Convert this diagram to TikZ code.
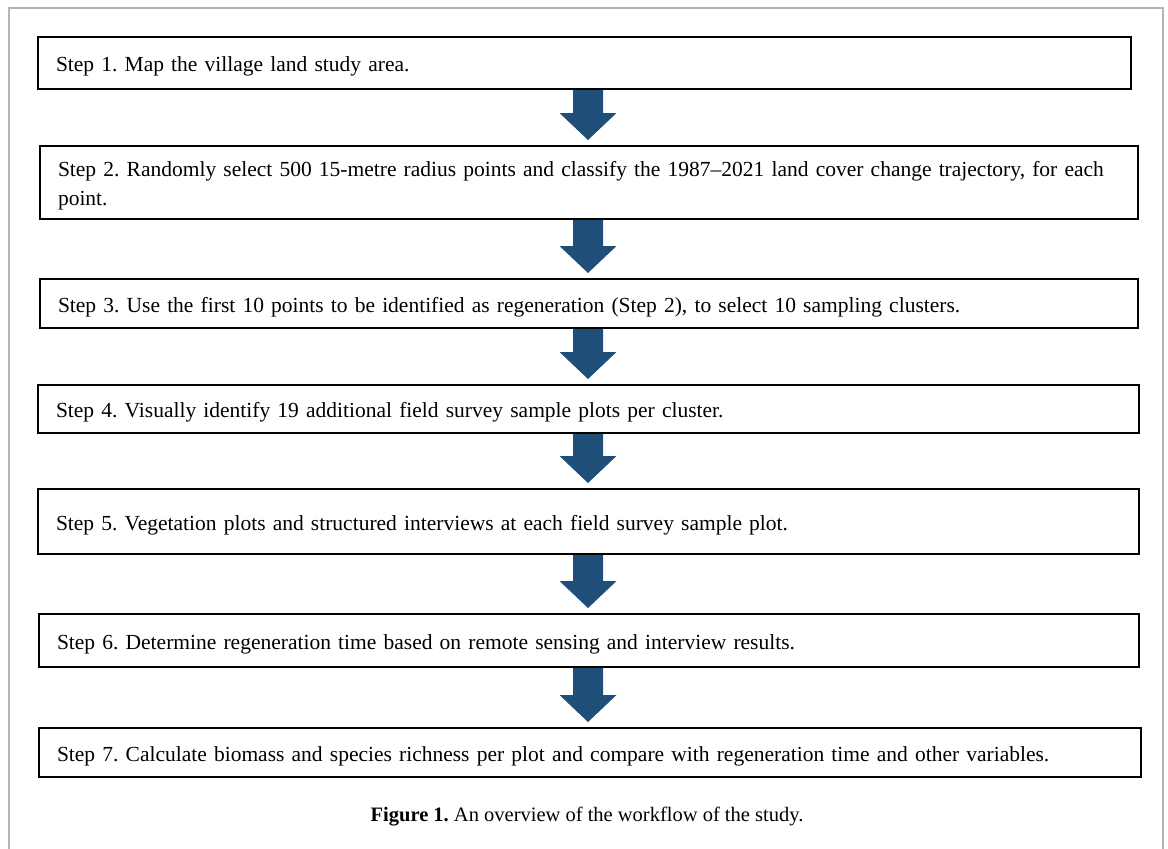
\documentclass[tikz,border=0pt]{standalone}
\usepackage{fontspec}
\setmainfont{Liberation Serif}
\usetikzlibrary{positioning}
\usetikzlibrary{calc}
\frenchspacing
\definecolor{arrowblue}{HTML}{1F4E79}
\definecolor{framegray}{HTML}{B4B4B4}
\tikzstyle{stepbox} = [rectangle, draw, line width=2pt, anchor=north west, align=left, inner xsep=18pt, inner ysep=0pt, font=\fontsize{21.5}{29}\selectfont, execute at begin node={\rule{0pt}{22pt}}]
\tikzstyle{flowarrow} = [fill=arrowblue]
\tikzstyle{caption} = [font=\fontsize{20.5}{24}\selectfont]

\begin{document}
\begin{tikzpicture}[x=1pt,y=-1pt]
		% page size and frame
		\useasboundingbox (0,0) rectangle (1168,849);
		\draw[framegray, line width=1.5pt] (9,849) -- (9,8) -- (1163,8) -- (1163,849);
		\coordinate (axis) at (588,0);
		% workflow steps
		\node[stepbox, minimum width=1093pt, minimum height=52pt, text width=1057pt] (s1) at (37,36) {Step 1. Map the village land study area.};
		\node[stepbox, minimum width=1098pt, minimum height=73pt, text width=1062pt] (s2) at (39,145) {Step 2. Randomly select 500 15-metre radius points and classify the 1987--2021 land cover change trajectory, for each\\point.};
		\node[stepbox, minimum width=1098pt, minimum height=49pt, text width=1062pt] (s3) at (39,278) {Step 3. Use the first 10 points to be identified as regeneration (Step 2), to select 10 sampling clusters.};
		\node[stepbox, minimum width=1101pt, minimum height=48pt, text width=1065pt] (s4) at (37,384) {Step 4. Visually identify 19 additional field survey sample plots per cluster.};
		\node[stepbox, minimum width=1101pt, minimum height=65pt, text width=1065pt] (s5) at (37,488) {Step 5. Vegetation plots and structured interviews at each field survey sample plot.};
		\node[stepbox, minimum width=1100pt, minimum height=53pt, text width=1064pt] (s6) at (38,613) {Step 6. Determine regeneration time based on remote sensing and interview results.};
		\node[stepbox, minimum width=1102pt, minimum height=49pt, text width=1066pt] (s7) at (38,727) {Step 7. Calculate biomass and species richness per plot and compare with regeneration time and other variables.};
		% block arrows between steps
		\foreach \a/\b in {s1/s2, s2/s3, s3/s4, s4/s5, s5/s6, s6/s7} {
			\coordinate (A) at (\a.south -| axis);
			\coordinate (T) at ($(\b.north -| axis)+(0,-5)$);
			\fill[flowarrow] ($(A)+(-15,0)$) -- ($(A)+(15,0)$) -- ($(T)+(15,-27)$) -- ($(T)+(28.5,-27)$) -- (T) -- ($(T)+(-28.5,-27)$) -- ($(T)+(-15,-27)$) -- cycle;
		}
		% caption
		\node[caption] (cap) at (587,817) {\textbf{Figure 1.} An overview of the workflow of the study.};
	\end{tikzpicture}
\end{document}
